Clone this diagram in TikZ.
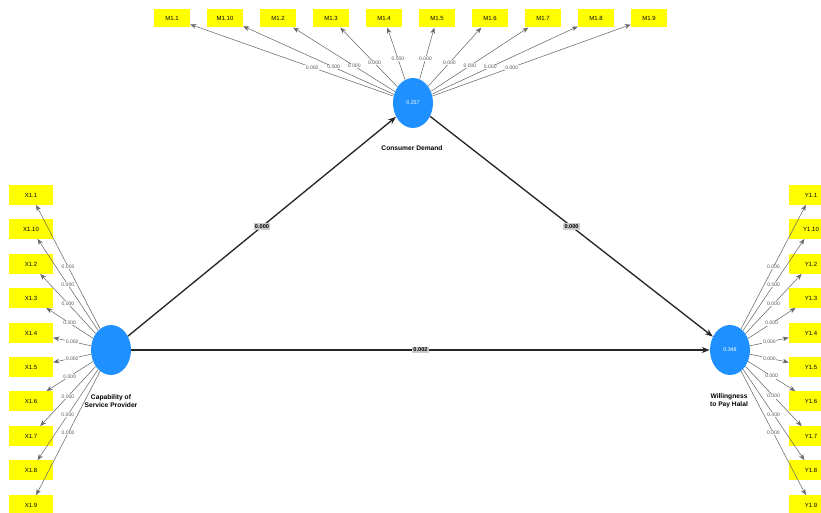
\documentclass[tikz,border=0pt]{standalone}
\usepackage{fontspec}
\setmainfont{Liberation Sans}
\usepackage{tikz}
\usetikzlibrary{arrows.meta, positioning, shapes.geometric}
\definecolor{latent}{HTML}{1E90FF}
\definecolor{indic}{HTML}{FFFF00}

\begin{document}
\begin{tikzpicture}[
    x=0.75pt, y=-0.75pt,
    lv/.style={ellipse, fill=latent, minimum width=30pt, minimum height=37.5pt, inner sep=0pt, text=white, font=\fontsize{4}{5}\selectfont},
    mbox/.style={fill=indic, minimum width=27pt, minimum height=14pt, inner sep=0pt, font=\fontsize{4.5}{5}\selectfont},
    sbox/.style={fill=indic, minimum width=33pt, minimum height=14.5pt, inner sep=0pt, font=\fontsize{4.5}{5}\selectfont},
    ld/.style={draw=gray!80!black, line width=0.4pt, -{Stealth[length=4.5pt, width=3.5pt]}},
    lw/.style={fill=white, inner sep=0.4pt, text=gray!70!black, font=\fontsize{3.8}{4}\selectfont},
    pth/.style={draw=black!85, line width=1pt, -{Stealth[length=6pt, width=4.5pt]}},
    pw/.style={fill=gray!40, inner sep=0.8pt, font=\fontsize{4.2}{5}\selectfont\bfseries},
    nm/.style={font=\fontsize{5}{6}\selectfont\bfseries, align=center, inner sep=0pt}
]
\useasboundingbox (0,0) rectangle (821,513);
% Latent variables
\node[lv] (cd) at (413,103) {0.257};
\node[lv] (csp) at (111,350) {};
\node[lv] (wph) at (730,350) {0.348};
\node[nm] (cdlab) at (412,148) {Consumer Demand};
\node[nm] (csplab) at (111,401) {Capability of\\Service Provider};
\node[nm] (wphlab) at (729,401) {Willingness\\to Pay Halal};
% Consumer Demand indicators
\node[mbox] (m1) at (172,18) {M1.1};
\node[mbox] (m10) at (225,18) {M1.10};
\node[mbox] (m2) at (278,18) {M1.2};
\node[mbox] (m3) at (331,18) {M1.3};
\node[mbox] (m4) at (384,18) {M1.4};
\node[mbox] (m5) at (437,18) {M1.5};
\node[mbox] (m6) at (490,18) {M1.6};
\node[mbox] (m7) at (543,18) {M1.7};
\node[mbox] (m8) at (596,18) {M1.8};
\node[mbox] (m9) at (649,18) {M1.9};
% Capability indicators
\node[sbox] (x1) at (31,195) {X1.1};
\node[sbox] (x10) at (31,229) {X1.10};
\node[sbox] (x2) at (31,264) {X1.2};
\node[sbox] (x3) at (31,298) {X1.3};
\node[sbox] (x4) at (31,333) {X1.4};
\node[sbox] (x5) at (31,367) {X1.5};
\node[sbox] (x6) at (31,401) {X1.6};
\node[sbox] (x7) at (31,436) {X1.7};
\node[sbox] (x8) at (31,470) {X1.8};
\node[sbox] (x9) at (31,505) {X1.9};
% Willingness indicators
\node[sbox] (y1) at (811,195) {Y1.1};
\node[sbox] (y10) at (811,229) {Y1.10};
\node[sbox] (y2) at (811,264) {Y1.2};
\node[sbox] (y3) at (811,298) {Y1.3};
\node[sbox] (y4) at (811,333) {Y1.4};
\node[sbox] (y5) at (811,367) {Y1.5};
\node[sbox] (y6) at (811,401) {Y1.6};
\node[sbox] (y7) at (811,436) {Y1.7};
\node[sbox] (y8) at (811,470) {Y1.8};
\node[sbox] (y9) at (811,505) {Y1.9};
% Loadings, Consumer Demand
\draw[ld] (cd) -- node[lw, pos=0.4] {0.000} (m1);
\draw[ld] (cd) -- node[lw, pos=0.4] {0.000} (m10);
\draw[ld] (cd) -- node[lw, pos=0.4] {0.000} (m2);
\draw[ld] (cd) -- node[lw, pos=0.4] {0.000} (m3);
\draw[ld] (cd) -- node[lw, pos=0.4] {0.000} (m4);
\draw[ld] (cd) -- node[lw, pos=0.4] {0.000} (m5);
\draw[ld] (cd) -- node[lw, pos=0.4] {0.000} (m6);
\draw[ld] (cd) -- node[lw, pos=0.4] {0.000} (m7);
\draw[ld] (cd) -- node[lw, pos=0.4] {0.000} (m8);
\draw[ld] (cd) -- node[lw, pos=0.4] {0.000} (m9);
% Loadings, Capability
\draw[ld] (csp) -- node[lw] {0.000} (x1);
\draw[ld] (csp) -- node[lw] {0.000} (x10);
\draw[ld] (csp) -- node[lw] {0.000} (x2);
\draw[ld] (csp) -- node[lw] {0.000} (x3);
\draw[ld] (csp) -- node[lw] {0.000} (x4);
\draw[ld] (csp) -- node[lw] {0.000} (x5);
\draw[ld] (csp) -- node[lw] {0.000} (x6);
\draw[ld] (csp) -- node[lw] {0.000} (x7);
\draw[ld] (csp) -- node[lw] {0.000} (x8);
\draw[ld] (csp) -- node[lw] {0.000} (x9);
% Loadings, Willingness
\draw[ld] (wph) -- node[lw] {0.000} (y1);
\draw[ld] (wph) -- node[lw] {0.000} (y10);
\draw[ld] (wph) -- node[lw] {0.000} (y2);
\draw[ld] (wph) -- node[lw] {0.000} (y3);
\draw[ld] (wph) -- node[lw] {0.000} (y4);
\draw[ld] (wph) -- node[lw] {0.000} (y5);
\draw[ld] (wph) -- node[lw] {0.000} (y6);
\draw[ld] (wph) -- node[lw] {0.000} (y7);
\draw[ld] (wph) -- node[lw] {0.000} (y8);
\draw[ld] (wph) -- node[lw] {0.000} (y9);
% Structural paths
\draw[pth] (csp) -- node[pw] {0.000} (cd);
\draw[pth] (cd) -- node[pw] {0.000} (wph);
\draw[pth] (csp) -- node[pw] {0.002} (wph);
\end{tikzpicture}
\end{document}
